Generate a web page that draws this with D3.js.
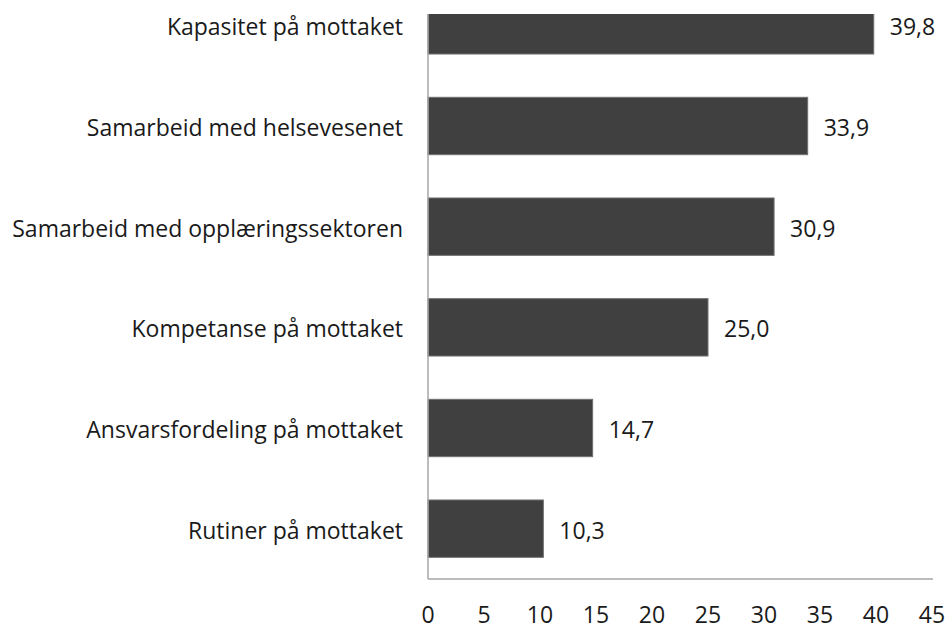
<!DOCTYPE html>
<html>
<head>
<meta charset="utf-8">
<script src="https://cdn.jsdelivr.net/npm/d3@7"></script>
<style>
  body { margin: 0; background: #fff; }
  text { font-family: "Open Sans", "Noto Sans", sans-serif; }
</style>
</head>
<body>
<div id="plot"></div>
<script>
// Data
const categories = [
    "Kapasitet på mottaket",
    "Samarbeid med helsevesenet",
    "Samarbeid med opplæringssektoren",
    "Kompetanse på mottaket",
    "Ansvarsfordeling på mottaket",
    "Rutiner på mottaket"
];
const values = [39.8, 33.9, 30.9, 25.0, 14.7, 10.3];
const xTicks = [0, 5, 10, 15, 20, 25, 30, 35, 40, 45];

const data = categories.map((c, i) => ({ name: c, value: values[i] }));

// Chart dimensions
const svgWidth = 949;
const svgHeight = 630;
const plotTop = 14;      // visible top of the plot (chart is cut at the top)
const axisY = 579;
const axisX = 428;
const fontSize = "23px";

const svg = d3.select("#plot")
    .append("svg")
    .attr("width", svgWidth)
    .attr("height", svgHeight);

// Scales
const xScale = d3.scaleLinear()
    .domain([0, 45])
    .range([axisX, 932]);

const yScale = d3.scaleBand()
    .domain(categories)
    .range([-25, axisY])
    .paddingInner(0.43)
    .paddingOuter(0.215);

const yMid = d => yScale(d.name) + yScale.bandwidth() / 2 + 2;

// Clip so the top bar is cut like the original
svg.append("defs").append("clipPath")
    .attr("id", "plotClip")
    .append("rect")
    .attr("x", 0)
    .attr("y", plotTop)
    .attr("width", svgWidth)
    .attr("height", axisY - plotTop);

// Bars
svg.append("g")
    .attr("clip-path", "url(#plotClip)")
    .selectAll(".bar")
    .data(data)
    .enter()
    .append("rect")
    .attr("class", "bar")
    .attr("x", xScale(0))
    .attr("y", d => yScale(d.name))
    .attr("width", d => xScale(d.value) - xScale(0))
    .attr("height", yScale.bandwidth())
    .attr("fill", "#404040")
    .attr("stroke", "#707070")
    .attr("stroke-width", 1);

// Value labels
svg.selectAll(".value")
    .data(data)
    .enter()
    .append("text")
    .attr("class", "value")
    .attr("x", d => xScale(d.value) + 16)
    .attr("y", yMid)
    .attr("dy", "0.35em")
    .style("font-size", fontSize)
    .attr("fill", "#1a1a1a")
    .text(d => d.value.toFixed(1).replace(".", ","));

// Category labels
svg.selectAll(".cat")
    .data(data)
    .enter()
    .append("text")
    .attr("class", "cat")
    .attr("x", 403)
    .attr("y", yMid)
    .attr("dy", "0.35em")
    .attr("text-anchor", "end")
    .style("font-size", fontSize)
    .attr("fill", "#1a1a1a")
    .text(d => d.name);

// Axes lines
svg.append("line")
    .attr("x1", axisX).attr("x2", axisX)
    .attr("y1", plotTop).attr("y2", axisY)
    .attr("stroke", "#a6a6a6")
    .attr("stroke-width", 1.5);

svg.append("line")
    .attr("x1", axisX).attr("x2", xScale(45) + 1)
    .attr("y1", axisY).attr("y2", axisY)
    .attr("stroke", "#a6a6a6")
    .attr("stroke-width", 1.5);

// X tick labels
svg.selectAll(".tick-label")
    .data(xTicks)
    .enter()
    .append("text")
    .attr("class", "tick-label")
    .attr("x", d => xScale(d))
    .attr("y", 615)
    .attr("dy", "0.35em")
    .attr("text-anchor", "middle")
    .style("font-size", fontSize)
    .attr("fill", "#1a1a1a")
    .text(d => d);
</script>
</body>
</html>
